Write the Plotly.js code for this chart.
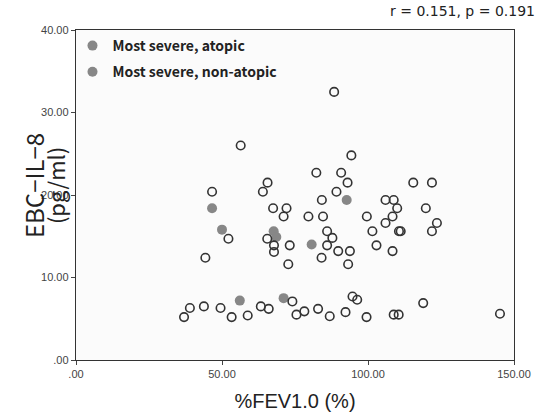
<!DOCTYPE html>
<html>
<head>
<meta charset="utf-8">
<script src="https://cdn.plot.ly/plotly-3.0.1.min.js"></script>
<style>html,body{margin:0;padding:0;background:#fff;}#chart{width:546px;height:418px;}</style>
</head>
<body>
<div id="chart"></div>
<script>
// Open circles: other patients
const otherX = [56.4, 65.6, 64.0, 46.6, 67.5, 52.2, 65.5, 67.8, 67.8, 44.3,
  88.4, 94.3, 82.3, 90.8, 93.0, 89.2, 84.2, 115.5, 121.9, 72.1,
  71.1, 79.6, 84.6, 106.0, 108.8, 110.0, 119.8, 99.6, 108.4, 106.0,
  123.6, 121.9, 110.6, 111.2, 101.5, 86.0, 87.8, 73.2, 86.0, 89.8,
  93.8, 102.9, 108.4, 84.1, 72.7, 93.2,
  39.0, 43.8, 49.5, 37.0, 53.3, 58.8, 63.3, 66.0, 74.1, 75.5,
  78.2, 82.9, 86.9, 92.3, 94.7, 96.3, 99.5, 108.8, 110.5, 118.9, 145.2];
const otherY = [26.0, 21.5, 20.4, 20.4, 18.4, 14.7, 14.7, 13.9, 13.1, 12.4,
  32.5, 24.8, 22.7, 22.7, 21.5, 20.4, 19.4, 21.5, 21.5, 18.4,
  17.4, 17.4, 17.4, 19.4, 19.4, 18.4, 18.4, 17.4, 17.4, 16.6,
  16.6, 15.6, 15.6, 15.6, 15.6, 15.6, 14.8, 13.9, 13.9, 13.2,
  13.2, 13.9, 13.2, 12.4, 11.6, 11.6,
  6.3, 6.5, 6.3, 5.2, 5.2, 5.4, 6.5, 6.2, 7.1, 5.5,
  5.9, 6.2, 5.3, 5.8, 7.7, 7.3, 5.2, 5.5, 5.5, 6.9, 5.6];
// Filled circles: most severe
const atopicX = [46.6, 67.7, 92.7, 56.1];
const atopicY = [18.4, 15.6, 19.4, 7.2];
const nonAtopicX = [50.0, 68.6, 80.7, 71.1];
const nonAtopicY = [15.8, 14.9, 14.0, 7.5];
const legendNames = ['Most severe, atopic', 'Most severe, non-atopic'];
const xTickVals = [0, 50, 100, 150];
const xTickText = ['.00', '50.00', '100.00', '150.00'];
const yTickVals = [0, 10, 20, 30, 40];
const yTickText = ['.00', '10.00', '20.00', '30.00', '40.00'];
const statText = 'r = 0.151, p = 0.191';
const yTitleLines = ['EBC\u2212IL\u22128', '(pg/ml)'];
const xTitle = '%FEV1.0 (%)';

const jp = '"Noto Sans CJK JP", "Liberation Sans", sans-serif';
const sans = '"Liberation Sans", Arial, sans-serif';

const traces = [
  {x: atopicX, y: atopicY, type: 'scatter', mode: 'markers', name: legendNames[0],
   legendgroup: 'a', marker: {symbol: 'circle', size: 10, color: '#878787', line: {width: 0}}},
  {x: nonAtopicX, y: nonAtopicY, type: 'scatter', mode: 'markers', name: legendNames[1],
   legendgroup: 'b', marker: {symbol: 'circle', size: 10, color: '#878787', line: {width: 0}}},
  {x: otherX, y: otherY, type: 'scatter', mode: 'markers', name: 'Others', showlegend: false,
   marker: {symbol: 'circle-open', size: 8.5, color: '#333', line: {width: 1.6, color: '#333'}}}
];

const axisCommon = {
  showgrid: false, zeroline: false, showline: true, linecolor: '#333', linewidth: 1.2,
  mirror: true, ticks: 'outside', ticklen: 4, tickcolor: '#444', tickwidth: 1,
  tickfont: {family: sans, size: 11, color: '#444'}, tickmode: 'array'
};

const layout = {
  width: 546, height: 418,
  margin: {l: 76, r: 32, t: 30, b: 58},
  paper_bgcolor: '#fff', plot_bgcolor: '#fbfbfb',
  showlegend: true,
  legend: {x: -0.008, y: 1.0, xanchor: 'left', yanchor: 'top', bgcolor: 'rgba(0,0,0,0)',
    font: {family: jp, size: 14, color: '#222', weight: 'bold'}, traceorder: 'grouped',
    tracegroupgap: 5, itemwidth: 30},
  xaxis: Object.assign({}, axisCommon, {range: [0, 150], tickvals: xTickVals, ticktext: xTickText,
    title: {text: xTitle, font: {family: sans, size: 20, color: '#222'}, standoff: 14}}),
  yaxis: Object.assign({}, axisCommon, {range: [0, 40], tickvals: yTickVals, ticktext: yTickText}),
  annotations: [
    {text: statText, xref: 'paper', yref: 'paper', x: 1.0525, y: 1, yshift: 19, xanchor: 'right', yanchor: 'middle',
     showarrow: false, font: {family: '"DejaVu Sans", sans-serif', size: 14, color: '#222'}},
    {text: yTitleLines[0], xref: 'paper', yref: 'paper', x: 0, xshift: -43, y: 0.527, xanchor: 'center', yanchor: 'middle',
     textangle: -90, showarrow: false, font: {family: jp, size: 24, color: '#222'}},
    {text: yTitleLines[1], xref: 'paper', yref: 'paper', x: 0, xshift: -21, y: 0.527, xanchor: 'center', yanchor: 'middle',
     textangle: -90, showarrow: false, font: {family: jp, size: 22, color: '#222'}}
  ]
};

Plotly.newPlot('chart', traces, layout, {displayModeBar: false, staticPlot: true});
</script>
</body>
</html>
